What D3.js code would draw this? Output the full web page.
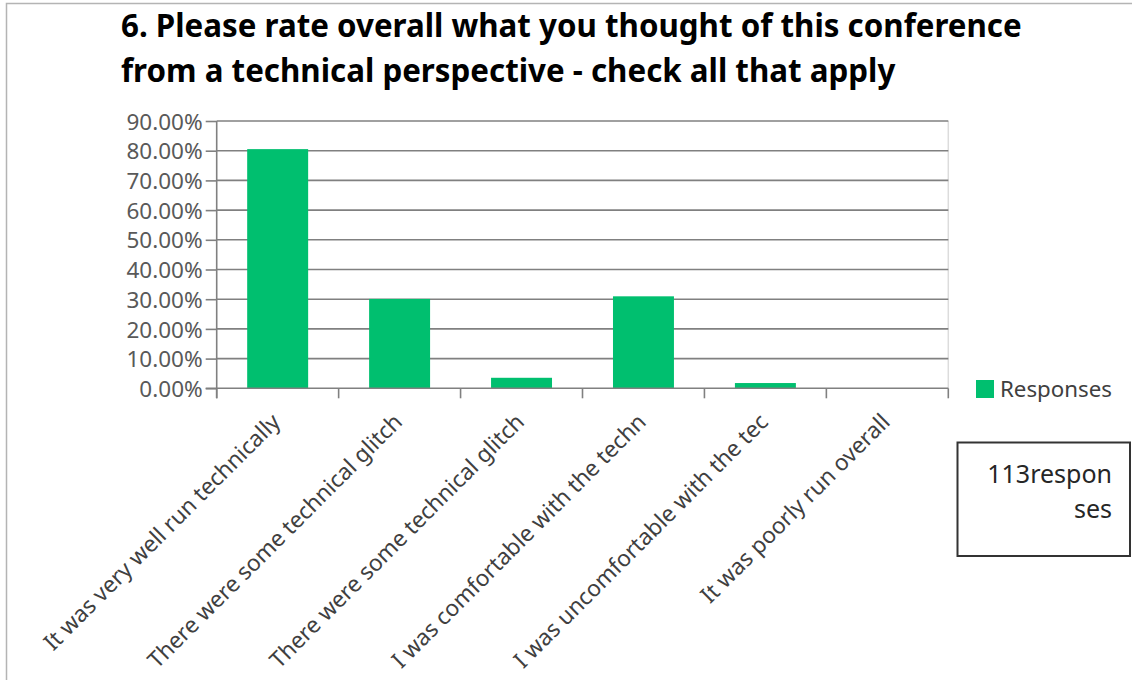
<!DOCTYPE html>
<html><head><meta charset="utf-8">
<script src="https://cdn.jsdelivr.net/npm/d3@7"></script>
<style>
html,body{margin:0;padding:0;background:#fff;}
svg{display:block;font-family:"Noto Sans","Open Sans",sans-serif;}
</style></head>
<body>
<svg id="chart" width="1132" height="680"></svg>
<script>
const titleLines = ["6. Please rate overall what you thought of this conference",
                    "from a technical perspective - check all that apply"];
const categories = ["It was very well run technically",
                    "There were some technical glitch",
                    "There were some technical glitch ",
                    "I was comfortable with the techn",
                    "I was uncomfortable with the tec",
                    "It was poorly run overall"];
const values = [0.8053, 0.3009, 0.0354, 0.3097, 0.0177, 0.0];
const yTicks = [0, 0.1, 0.2, 0.3, 0.4, 0.5, 0.6, 0.7, 0.8, 0.9];
const seriesName = "Responses";
const noteLines = ["113respon", "ses"];

const svg = d3.select("#chart");
const W = 1132, H = 680;
const plot = {left: 216.7, right: 948.3, top: 121, bottom: 388.3};
const green = "#00BF6F";
const gridColor = "#808080";

// outer frame (partially cropped)
svg.append("path").attr("d", `M6.5,${H} V3.5 H${W}`)
  .attr("fill", "none").attr("stroke", "#b4b4b4").attr("stroke-width", 1.5);

// title
svg.append("g").selectAll("text").data(titleLines).join("text")
  .attr("x", 121).attr("y", (d, i) => 37 + i * 44.5)
  .attr("font-size", 31.3).attr("font-weight", "bold").attr("fill", "#000")
  .text(d => d);

const x = d3.scaleBand().domain(categories).range([plot.left, plot.right]).paddingInner(0.5).paddingOuter(0.25);
const y = d3.scaleLinear().domain([0, 0.9]).range([plot.bottom, plot.top]);

// right plot border (faint)
svg.append("line").attr("x1", plot.right).attr("x2", plot.right)
  .attr("y1", plot.top).attr("y2", plot.bottom)
  .attr("stroke", "#dcdcdc").attr("stroke-width", 1.5);

// gridlines
svg.append("g").selectAll("line").data(yTicks.filter(d => d > 0)).join("line")
  .attr("x1", plot.left).attr("x2", plot.right)
  .attr("y1", d => y(d)).attr("y2", d => y(d))
  .attr("stroke", gridColor).attr("stroke-width", 1.6);

// bars
svg.append("g").selectAll("rect").data(values).join("rect")
  .attr("x", (d, i) => x(categories[i]))
  .attr("width", x.bandwidth())
  .attr("y", d => y(d))
  .attr("height", d => y(0) - y(d))
  .attr("fill", green);

// y axis
const yAxis = d3.axisLeft(y).tickValues(yTicks).tickSize(11).tickPadding(3)
  .tickFormat(d => (d * 100).toFixed(2) + "%");
const gy = svg.append("g").attr("transform", `translate(${plot.left},0)`).call(yAxis);
gy.select(".domain").remove();
gy.selectAll(".tick line").attr("stroke", gridColor).attr("stroke-width", 1.6);
gy.selectAll(".tick text").attr("font-size", 22.5).attr("fill", "#595959")
  .attr("font-family", "Noto Sans").attr("dy", "0.36em");
svg.append("line").attr("x1", plot.left).attr("x2", plot.left)
  .attr("y1", plot.top).attr("y2", plot.bottom + 10)
  .attr("stroke", gridColor).attr("stroke-width", 1.6);

// x axis
svg.append("line").attr("x1", plot.left - 11).attr("x2", plot.right)
  .attr("y1", plot.bottom).attr("y2", plot.bottom)
  .attr("stroke", gridColor).attr("stroke-width", 1.6);
const step = x.step();
const boundaries = d3.range(categories.length + 1).map(i => plot.left + i * step);
svg.append("g").selectAll("line").data(boundaries).join("line")
  .attr("x1", d => d).attr("x2", d => d)
  .attr("y1", plot.bottom).attr("y2", plot.bottom + 10)
  .attr("stroke", gridColor).attr("stroke-width", 1.6);

// x labels rotated
svg.append("g").selectAll("text").data(categories).join("text")
  .attr("transform", d => `translate(${x(d) + x.bandwidth() / 2 + 4},${plot.bottom + 35}) rotate(-45)`)
  .attr("text-anchor", "end")
  .attr("font-size", 22.6).attr("fill", "#404040")
  .text(d => d.trim());

// legend
svg.append("rect").attr("x", 976).attr("y", 380).attr("width", 18).attr("height", 18).attr("fill", green);
svg.append("text").attr("x", 1000).attr("y", 397).attr("font-size", 22.3).attr("fill", "#404040").text(seriesName);

// note box
svg.append("rect").attr("x", 957.5).attr("y", 442.5).attr("width", 172.5).attr("height", 113.5)
  .attr("fill", "#fff").attr("stroke", "#333").attr("stroke-width", 2);
svg.append("g").selectAll("text").data(noteLines).join("text")
  .attr("x", 1112).attr("y", (d, i) => 483 + i * 35)
  .attr("text-anchor", "end").attr("font-size", 25).attr("fill", "#262626")
  .text(d => d);
</script>
</body></html>
